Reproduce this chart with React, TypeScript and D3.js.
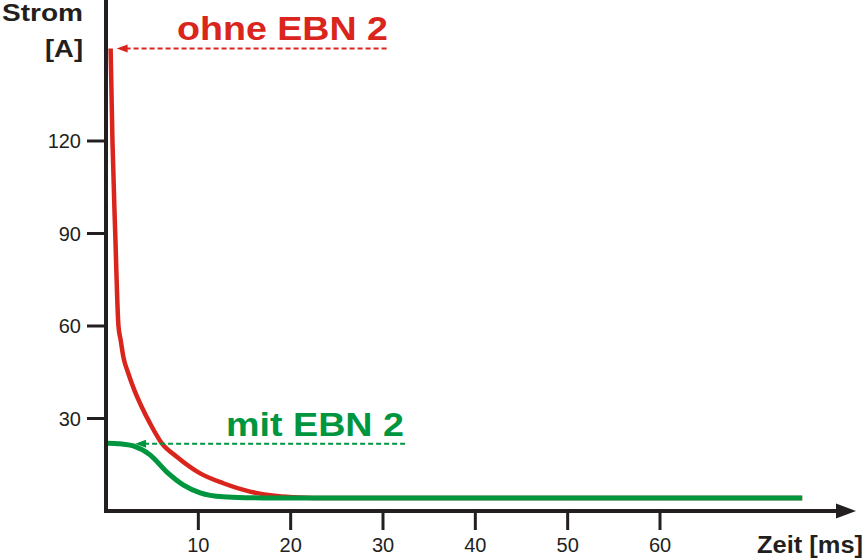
import React from "react";
import * as d3 from "d3";

const xTicks = [10, 20, 30, 40, 50, 60];
const yTicks = [30, 60, 90, 120];

// Strom ohne EBN 2 (time ms, current A)
const redT = [0.5, 0.7, 1.0, 1.35, 1.59, 1.88, 2.42, 3.07, 3.86, 4.77, 6.03, 7.66, 10.2, 12.7, 15.6, 18.5, 21, 24, 75.4];
const redV = [150, 120, 90, 60, 55.4, 50, 44.6, 39.2, 33.8, 28.4, 22, 17.6, 12.2, 9.0, 6.3, 4.9, 4.4, 4.2, 4.2];

// Strom mit EBN 2
const greenT = [0.2, 1.5, 2.95, 4.77, 6.57, 8.4, 10.2, 12.7, 15.6, 18, 75.4];
const greenV = [22, 21.8, 21.1, 18.2, 12.7, 8.4, 5.9, 4.6, 4.3, 4.2, 4.2];

const labels = {
  yTitle1: "Strom",
  yTitle2: "[A]",
  xTitle: "Zeit [ms]",
  red: "ohne EBN 2",
  green: "mit EBN 2",
};

const RED = "#DA251D";
const GREEN = "#009640";
const DARK = "#231F20";
const FONT = "'Liberation Sans', Arial, Helvetica, sans-serif";

export default function App() {
  const W = 864;
  const H = 559;
  const x = d3.scaleLinear().domain([0, 60]).range([106, 660]);
  const y = d3.scaleLinear().domain([0, 120]).range([511, 141]);

  const line = d3
    .line<[number, number]>()
    .x((d) => x(d[0]))
    .y((d) => y(d[1]))
    .curve(d3.curveMonotoneX);

  const redData: [number, number][] = redT.map((t, i) => [t, redV[i]]);
  const greenData: [number, number][] = greenT.map((t, i) => [t, greenV[i]]);

  const redArrowY = y(redV[0]);
  const redTip = x(redT[0]) + 6;
  const greenArrowY = y(greenV[0]) + 0.5;
  const greenTip = x(3.15);

  return (
    <svg
      width={W}
      height={H}
      viewBox={`0 0 ${W} ${H}`}
      style={{ position: "absolute", left: 0, top: 0, background: "#fff" }}
      fontFamily={FONT}
    >
      <rect x={0} y={0} width={W} height={H} fill="#fff" />
      {/* curves */}
      <path d={line(redData) || ""} fill="none" stroke={RED} strokeWidth={4.5} />
      <path d={line(greenData) || ""} fill="none" stroke={GREEN} strokeWidth={5} />

      {/* axes */}
      <line x1={x(0)} x2={x(0)} y1={0} y2={y(0) + 2} stroke={DARK} strokeWidth={4} />
      <line x1={x(0) - 2} x2={838} y1={y(0)} y2={y(0)} stroke={DARK} strokeWidth={4} />
      <polygon points={`836,${y(0) - 7.5} 856,${y(0)} 836,${y(0) + 7.5}`} fill={DARK} />

      {yTicks.map((v) => (
        <g key={v}>
          <line x1={87} x2={x(0)} y1={y(v)} y2={y(v)} stroke={DARK} strokeWidth={3} />
          <text x={81} y={y(v)} dy="0.36em" textAnchor="end" fontSize={20} fill={DARK}>
            {v}
          </text>
        </g>
      ))}
      {xTicks.map((t) => (
        <g key={t}>
          <line x1={x(t)} x2={x(t)} y1={y(0)} y2={530} stroke={DARK} strokeWidth={3} />
          <text x={x(t)} y={552} textAnchor="middle" fontSize={20} fill={DARK}>
            {t}
          </text>
        </g>
      ))}

      {/* axis titles */}
      <text x={2} y={21} fontSize={23} fontWeight="bold" fill={DARK} textLength={81} lengthAdjust="spacingAndGlyphs">
        {labels.yTitle1}
      </text>
      <text x={45} y={57} fontSize={23} fontWeight="bold" fill={DARK} textLength={38} lengthAdjust="spacingAndGlyphs">
        {labels.yTitle2}
      </text>
      <text x={757} y={553} fontSize={23} fontWeight="bold" fill={DARK} textLength={106} lengthAdjust="spacingAndGlyphs">
        {labels.xTitle}
      </text>

      {/* annotations */}
      <text x={177} y={40} fontSize={33} fontWeight="bold" fill={RED} textLength={211} lengthAdjust="spacingAndGlyphs">
        {labels.red}
      </text>
      <line x1={redTip + 9} x2={387} y1={redArrowY} y2={redArrowY} stroke={RED} strokeWidth={2} strokeDasharray="5,3" />
      <polygon
        points={`${redTip},${redArrowY} ${redTip + 11},${redArrowY - 4} ${redTip + 11},${redArrowY + 4}`}
        fill={RED}
      />

      <text x={226} y={436} fontSize={33} fontWeight="bold" fill={GREEN} textLength={178} lengthAdjust="spacingAndGlyphs">
        {labels.green}
      </text>
      <line x1={greenTip + 9} x2={407} y1={greenArrowY} y2={greenArrowY} stroke={GREEN} strokeWidth={2} strokeDasharray="5,3" />
      <polygon
        points={`${greenTip},${greenArrowY} ${greenTip + 11},${greenArrowY - 4} ${greenTip + 11},${greenArrowY + 4}`}
        fill={GREEN}
      />
    </svg>
  );
}
